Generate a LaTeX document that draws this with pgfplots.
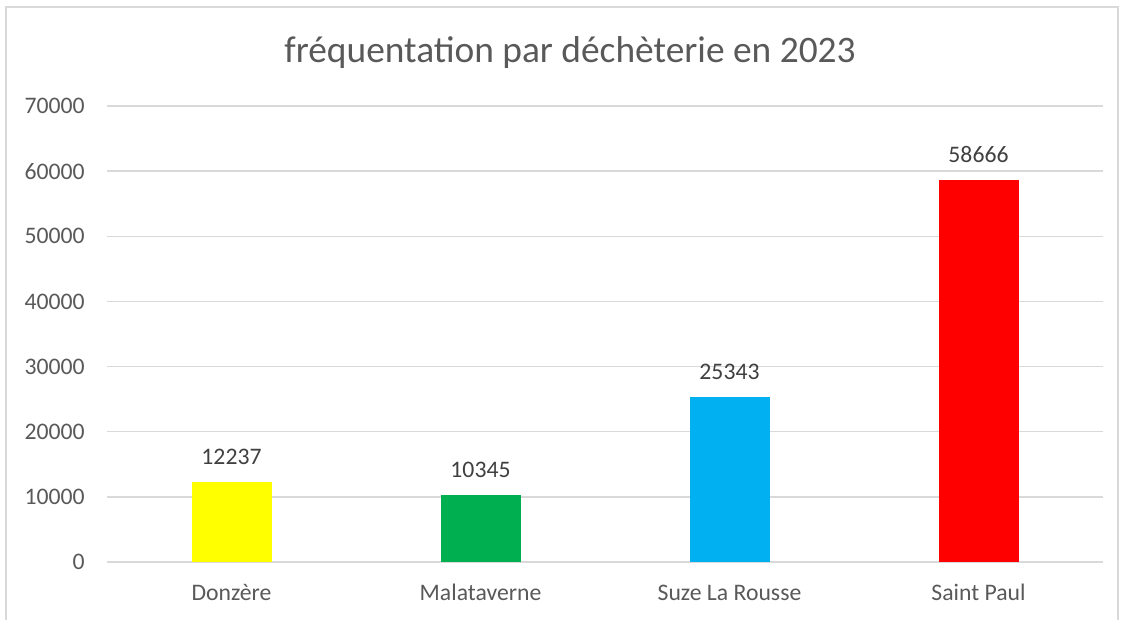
\documentclass[border=0pt]{standalone}
\usepackage{pgfplots}
\pgfplotsset{compat=1.18}
\usepackage{fontspec}
\setmainfont{Carlito}
\definecolor{txtgray}{HTML}{595959}
\definecolor{lblgray}{HTML}{404040}
\definecolor{gridgray}{HTML}{D9D9D9}
\definecolor{cyel}{HTML}{FFFF00}
\definecolor{cgrn}{HTML}{00B050}
\definecolor{cblu}{HTML}{00B0F0}
\definecolor{cred}{HTML}{FF0000}
\begin{document}
\begin{tikzpicture}
\path[use as bounding box] (0,0) rectangle (562pt,310pt);
\draw[gridgray, line width=0.75pt] (3pt,0) -- (3pt,306.5pt) -- (559pt,306.5pt) -- (559pt,0);
\node[font=\fontsize{18.7}{22}\selectfont, text=txtgray] at (285pt,283.5pt) {fréquentation par déchèterie en 2023};
\begin{axis}[
  at={(53.5pt,29pt)}, anchor=south west,
  scale only axis, width=498pt, height=228pt,
  xmin=-0.5, xmax=3.5, ymin=0, ymax=70000,
  ytick={0,10000,...,70000},
  xtick={0,1,2,3},
  xticklabels={Donzère, Malataverne, Suze La Rousse, Saint Paul},
  axis line style={draw=none},
  major tick length=0pt,
  ymajorgrids, grid style={gridgray, line width=0.75pt},
  /pgf/number format/assume math mode=true,
  /pgf/number format/1000 sep={},
  scaled y ticks=false,
  tick label style={font=\fontsize{11.85}{14}\selectfont, text=txtgray},
  yticklabel style={anchor=east, inner sep=0pt, xshift=-11pt},
  xticklabel style={anchor=base, inner sep=0pt, yshift=-19.3pt},
  ybar, bar width=40pt, bar shift=0pt,
  nodes near coords,
  every node near coord/.append style={font=\fontsize{11.85}{14}\selectfont, text=lblgray, anchor=base, inner sep=0pt, yshift=8.7pt},
]
\addplot[fill=cyel, draw=none] coordinates {(0,12237)};
\addplot[fill=cgrn, draw=none] coordinates {(1,10345)};
\addplot[fill=cblu, draw=none] coordinates {(2,25343)};
\addplot[fill=cred, draw=none] coordinates {(3,58666)};
\end{axis}
\end{tikzpicture}
\end{document}
